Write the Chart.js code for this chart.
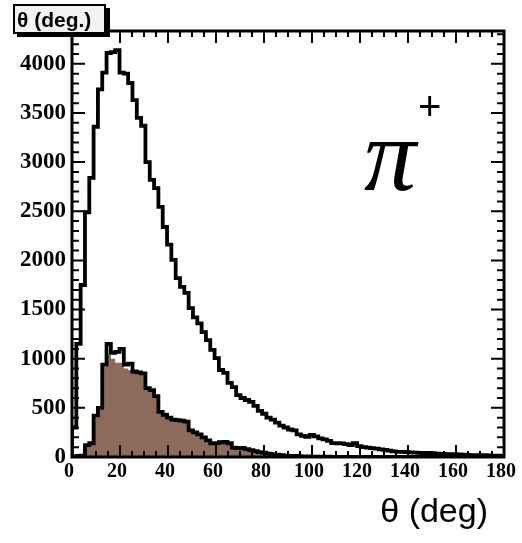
<!DOCTYPE html>
<html>
<head>
<meta charset="utf-8">
<script src="https://cdn.jsdelivr.net/npm/chart.js@4.4.0/dist/chart.umd.min.js"></script>
<style>
  html, body { margin: 0; padding: 0; background: #fff; }
  #wrap { position: relative; width: 522px; height: 543px; }
</style>
</head>
<body>
<div id="wrap"><canvas id="c" width="522" height="543"></canvas></div>
<script>
// theta histograms, 100 bins of 1.8 deg from 0 to 180
const binWidth = 1.8;
const allCounts = [
  300, 1150, 1750, 2490, 2840, 3360, 3740, 3910, 4110, 4120,
  4140, 3910, 3900, 3805, 3630, 3450, 3370, 3000, 2820, 2735,
  2545, 2340, 2160, 2005, 1820, 1730, 1670, 1515, 1420, 1360,
  1270, 1190, 1090, 1005, 885, 855, 755, 710, 630, 600,
  580, 560, 520, 470, 440, 400, 380, 350, 320, 300,
  280, 270, 230, 215, 205, 225, 210, 190, 180, 165,
  142, 140, 138, 130, 122, 140, 110, 100, 95, 90,
  85, 78, 72, 65, 58, 52, 52, 50, 48, 45,
  42, 40, 42, 38, 35, 32, 30, 30, 28, 26,
  25, 22, 20, 20, 18, 18, 16, 15, 15, 12
];
const selOutline = [
  0, 10, 15, 120, 140, 420, 500, 940, 1150, 1060,
  1070, 1100, 940, 950, 870, 860, 850, 700, 680, 620,
  460, 430, 400, 380, 375, 370, 360, 270, 250, 230,
  200, 170, 140, 142, 150, 153, 140, 95, 90, 92,
  80, 70, 60, 50, 45, 35, 30, 25, 20, 15,
  12, 10, 8, 6, 5, 4, 4, 3, 3, 3,
  2, 2, 2, 2, 2, 2, 1, 1, 1, 1,
  1, 1, 1, 1, 1, 1, 1, 1, 1, 1,
  0, 0, 0, 0, 0, 0, 0, 0, 0, 0,
  0, 0, 0, 0, 0, 0, 0, 0, 0, 0
];
const selFilled = [
  0, 10, 15, 110, 130, 400, 480, 920, 1040, 1000,
  960, 960, 900, 885, 865, 850, 840, 690, 670, 610,
  450, 420, 390, 370, 365, 360, 350, 260, 240, 220,
  190, 160, 130, 135, 140, 145, 130, 85, 80, 82,
  70, 60, 50, 40, 35, 25, 20, 15, 10, 8,
  6, 5, 4, 3, 2, 2, 2, 1, 1, 1,
  1, 1, 1, 1, 1, 1, 0, 0, 0, 0,
  0, 0, 0, 0, 0, 0, 0, 0, 0, 0,
  0, 0, 0, 0, 0, 0, 0, 0, 0, 0,
  0, 0, 0, 0, 0, 0, 0, 0, 0, 0
];
const xTicks = [0, 20, 40, 60, 80, 100, 120, 140, 160, 180];
const yTicks = [0, 500, 1000, 1500, 2000, 2500, 3000, 3500, 4000];
const xMinorStep = 5, yMinorStep = 100;
const xMax = 180, yMax = 4334;

// bin contents -> stepped outline points (closed down to zero at both ends)
function histPoints(counts) {
  const pts = [{x: 0, y: 0}];
  counts.forEach((v, i) => pts.push({x: i * binWidth, y: v}));
  pts.push({x: counts.length * binWidth, y: 0});
  return pts;
}

const tickFontY = {family: '"Liberation Serif", "Times New Roman", serif', size: 23, weight: 'bold'};
const tickFontX = {family: '"Liberation Serif", "Times New Roman", serif', size: 20, weight: 'bold'};

// ROOT-like frame: inward ticks on all four sides, stat box, labels
const rootFrame = {
  id: 'rootFrame',
  afterDraw(chart) {
    const {ctx, chartArea: a, scales: {x, y}} = chart;
    ctx.save();
    ctx.strokeStyle = '#000';
    ctx.lineWidth = 2;
    ctx.beginPath();
    for (let v = 0; v <= xMax; v += xMinorStep) {
      const px = x.getPixelForValue(v);
      const len = v % 20 === 0 ? 12 : 6;
      ctx.moveTo(px, a.bottom); ctx.lineTo(px, a.bottom - len);
      ctx.moveTo(px, a.top); ctx.lineTo(px, a.top + len);
    }
    for (let v = 0; v <= yMax; v += yMinorStep) {
      const py = y.getPixelForValue(v);
      const len = v % 500 === 0 ? 13 : 7;
      ctx.moveTo(a.left, py); ctx.lineTo(a.left + len, py);
      ctx.moveTo(a.right, py); ctx.lineTo(a.right - len, py);
    }
    ctx.stroke();
    ctx.lineWidth = 3;
    ctx.strokeRect(a.left, a.top, a.right - a.left, a.bottom - a.top);

    // title box
    ctx.fillStyle = '#000';
    ctx.fillRect(17, 8, 93, 29);
    ctx.fillStyle = '#f2f2f2';
    ctx.fillRect(14, 5, 91, 28);
    ctx.lineWidth = 2;
    ctx.strokeRect(14, 5, 91, 28);
    ctx.fillStyle = '#000';
    ctx.font = 'bold 21px "Liberation Sans", Arial, sans-serif';
    ctx.textBaseline = 'alphabetic';
    ctx.textAlign = 'left';
    ctx.fillText('θ (deg.)', 17, 27);

    // particle label
    ctx.font = 'italic 104px "Liberation Serif", "Times New Roman", serif';
    ctx.fillText('π', 364, 190);
    ctx.font = '40px "Liberation Sans", Arial, sans-serif';
    ctx.fillText('+', 418, 120);

    // x axis title
    ctx.font = '34px "Liberation Sans", Arial, sans-serif';
    ctx.textAlign = 'right';
    ctx.fillText('θ (deg)', 488, 522);
    ctx.restore();
  }
};

new Chart(document.getElementById('c').getContext('2d'), {
  type: 'line',
  data: {
    datasets: [
      { label: 'all', data: histPoints(allCounts), stepped: true, borderColor: '#000',
        borderWidth: 3.8, pointRadius: 0, fill: false, order: 1, borderJoinStyle: 'miter' },
      { label: 'selected', data: histPoints(selOutline), stepped: true, borderColor: '#000',
        borderWidth: 3.8, pointRadius: 0, fill: false, order: 2, borderJoinStyle: 'miter' },
      { label: 'selected fill', data: histPoints(selFilled), stepped: true, borderColor: 'rgba(0,0,0,0)',
        borderWidth: 0, backgroundColor: '#8c6b5c', pointRadius: 0, fill: 'origin', order: 3 },
    ]
  },
  options: {
    responsive: false,
    animation: false,
    layout: { padding: { top: 31, right: 16, left: 0, bottom: 0 } },
    scales: {
      x: {
        type: 'linear', min: 0, max: xMax,
        afterBuildTicks: s => { s.ticks = xTicks.map(v => ({value: v})); },
        afterFit: s => { s.height = 86; },
        grid: { display: false, drawTicks: false },
        border: { display: false },
        ticks: { color: '#000', font: tickFontX, padding: 3, maxRotation: 0, autoSkip: false, labelOffset: -3,
          callback: v => String(v) },
      },
      y: {
        type: 'linear', min: 0, max: yMax,
        afterBuildTicks: s => { s.ticks = yTicks.map(v => ({value: v})); },
        afterFit: s => { s.width = 72; },
        grid: { display: false, drawTicks: false },
        border: { display: false },
        ticks: { color: '#000', font: tickFontY, padding: 6, callback: v => String(v) },
      },
    },
    plugins: {
      legend: { display: false },
      tooltip: { enabled: false },
    },
  },
  plugins: [rootFrame]
});
</script>
</body>
</html>
